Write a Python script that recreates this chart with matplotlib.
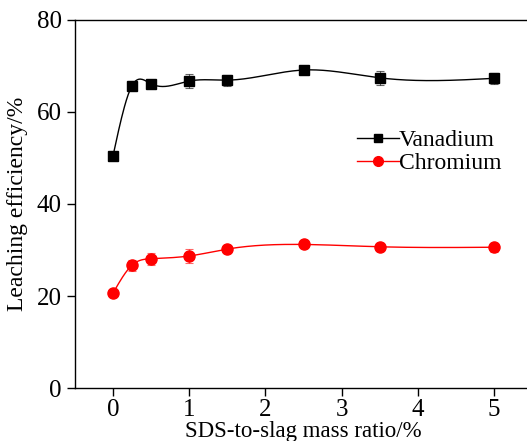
import numpy as np
import matplotlib
matplotlib.use("Agg")
import matplotlib.pyplot as plt

ratio = [0, 0.25, 0.5, 1, 1.5, 2.5, 3.5, 5]
vanadium = [50.4, 65.7, 66.1, 66.7, 66.9, 69.1, 67.4, 67.3]
vanadium_err = [0.5, 1.0, 0.8, 1.5, 1.2, 0.5, 1.5, 1.2]
chromium = [20.6, 26.7, 28.1, 28.7, 30.2, 31.2, 30.7, 30.6]
chromium_err = [0.6, 1.2, 1.3, 1.5, 0.8, 0.7, 0.8, 1.0]
xticks = [0, 1, 2, 3, 4, 5]
yticks = [0, 20, 40, 60, 80]


def natural_spline(x, y, n=400):
    x = np.asarray(x, float); y = np.asarray(y, float)
    k = len(x)
    h = np.diff(x)
    A = np.zeros((k, k)); b = np.zeros(k)
    A[0, 0] = A[-1, -1] = 1
    for i in range(1, k - 1):
        A[i, i - 1] = h[i - 1]; A[i, i] = 2 * (h[i - 1] + h[i]); A[i, i + 1] = h[i]
        b[i] = 3 * ((y[i + 1] - y[i]) / h[i] - (y[i] - y[i - 1]) / h[i - 1])
    c = np.linalg.solve(A, b)
    bb = (y[1:] - y[:-1]) / h - h * (2 * c[:-1] + c[1:]) / 3
    d = (c[1:] - c[:-1]) / (3 * h)
    xs = np.linspace(x[0], x[-1], n)
    idx = np.clip(np.searchsorted(x, xs) - 1, 0, k - 2)
    dx = xs - x[idx]
    ys = y[idx] + bb[idx] * dx + c[idx] * dx ** 2 + d[idx] * dx ** 3
    return xs, ys


plt.rcParams['font.family'] = ['Liberation Serif', 'DejaVu Serif']
fig = plt.figure(figsize=(5.27, 4.41), dpi=100)
ax = fig.add_axes([0.142, 0.120, 0.868, 0.835])

for vals, errs, col, mk, lab in [(vanadium, vanadium_err, 'black', 's', 'Vanadium'),
                                 (chromium, chromium_err, 'red', 'o', 'Chromium')]:
    xs, ys = natural_spline(ratio, vals)
    ax.plot(xs, ys, color=col, lw=1.0)
    ax.errorbar(ratio, vals, yerr=errs, fmt='none', ecolor=col, elinewidth=0.8,
                capsize=3, capthick=0.8, alpha=0.6)
    ax.plot(ratio, vals, linestyle='none', marker=mk, color=col,
            markersize=7 if mk == 's' else 8)
    ax.plot([], [], color=col, marker=mk, lw=1.0, markersize=6 if mk == 's' else 7, label=lab)

ax.set_xlim(-0.5, 5.5)
ax.set_ylim(0, 80)
ax.set_xticks(xticks)
ax.set_yticks(yticks)
ax.tick_params(direction='out', length=6, width=1, labelsize=18, top=False, right=False)
ax.tick_params(axis='x', pad=2)
for s in ax.spines.values():
    s.set_linewidth(1.0)
ax.set_xlabel('SDS-to-slag mass ratio/%', fontsize=16.5, labelpad=0)
ax.set_ylabel('Leaching efficiency/%', fontsize=17, labelpad=6)

ax.legend(loc='upper left', bbox_to_anchor=(0.585, 0.74), frameon=False, fontsize=17,
          handlelength=1.8, handletextpad=0.0, borderpad=0.1, labelspacing=0.05)

fig.savefig('out.png', dpi=100)
